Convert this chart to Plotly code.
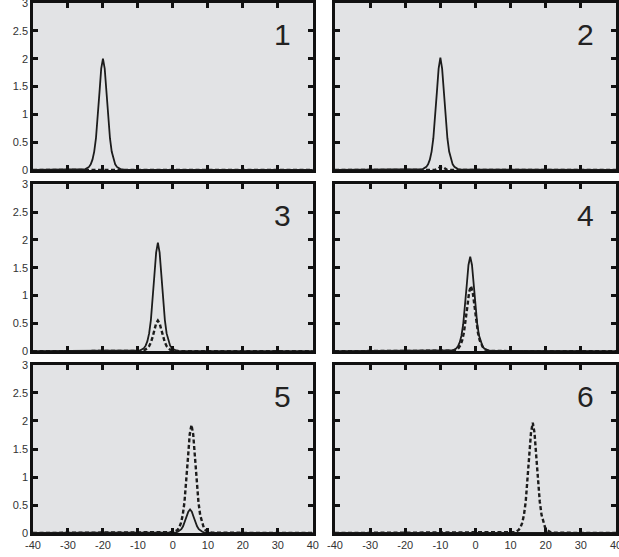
import plotly.graph_objects as go

# ---------------- data ----------------
X_RANGE = [-40, 40]
Y_RANGE = [0, 3]
x_tick_vals = [-40, -30, -20, -10, 0, 10, 20, 30, 40]
x_tick_text = ["-40", "-30", "-20", "-10", "0", "10", "20", "30", "40"]
y_tick_vals = [0, 0.5, 1, 1.5, 2, 2.5, 3]
y_tick_text = ["0", "0.5", "1", "1.5", "2", "2.5", "3"]
panel_labels = ["1", "2", "3", "4", "5", "6"]

# panel 1
p1_solid_x = [-40, -26, -25, -24, -23.5, -23, -22.5, -22, -21.5, -21, -20.5, -20, -19.5, -19, -18.5, -18, -17.5, -17, -16.5, -16, -15, -14, 40]
p1_solid_y = [0, 0.005, 0.016, 0.055, 0.10, 0.185, 0.33, 0.57, 0.93, 1.39, 1.82, 2.0, 1.82, 1.39, 0.93, 0.57, 0.33, 0.185, 0.10, 0.055, 0.016, 0.005, 0]
p1_dash_x = [-40, 40]
p1_dash_y = [0, 0]

# panel 2
p2_solid_x = [-40, -16, -15, -14, -13.5, -13, -12.5, -12, -11.5, -11, -10.5, -10, -9.5, -9, -8.5, -8, -7.5, -7, -6.5, -6, -5, -4, 40]
p2_solid_y = [0, 0.005, 0.016, 0.055, 0.10, 0.185, 0.33, 0.57, 0.93, 1.39, 1.82, 2.02, 1.82, 1.39, 0.93, 0.57, 0.33, 0.185, 0.10, 0.055, 0.016, 0.005, 0]
p2_dash_x = [-40, -11.5, -10.5, -10, -9.5, -9, -8, 40]
p2_dash_y = [0, 0, 0.03, 0.055, 0.06, 0.04, 0, 0]

# panel 3
p3_solid_x = [-40, -10.3, -9.3, -8.3, -7.8, -7.3, -6.8, -6.3, -5.8, -5.3, -4.8, -4.3, -3.8, -3.3, -2.8, -2.3, -1.8, -1.3, -0.8, -0.3, 0.7, 1.7, 40]
p3_solid_y = [0, 0.0045, 0.016, 0.054, 0.10, 0.18, 0.32, 0.56, 0.91, 1.36, 1.77, 1.95, 1.77, 1.36, 0.91, 0.56, 0.32, 0.18, 0.10, 0.054, 0.016, 0.0045, 0]
p3_dash_x = [-40, -10.3, -9.3, -8.3, -7.8, -7.3, -6.8, -6.3, -5.8, -5.3, -4.8, -4.3, -3.8, -3.3, -2.8, -2.3, -1.8, -1.3, -0.8, -0.3, 0.7, 1.7, 40]
p3_dash_y = [0, 0.001, 0.0045, 0.015, 0.028, 0.051, 0.091, 0.157, 0.256, 0.383, 0.50, 0.55, 0.50, 0.383, 0.256, 0.157, 0.091, 0.051, 0.028, 0.015, 0.0045, 0.001, 0]

# panel 4
p4_solid_x = [-40, -7.5, -6.5, -5.5, -5, -4.5, -4, -3.5, -3, -2.5, -2, -1.5, -1, -0.5, 0, 0.5, 1, 1.5, 2, 2.5, 3.5, 4.5, 40]
p4_solid_y = [0, 0.004, 0.014, 0.047, 0.087, 0.157, 0.28, 0.485, 0.79, 1.18, 1.55, 1.7, 1.55, 1.18, 0.79, 0.485, 0.28, 0.157, 0.087, 0.047, 0.014, 0.004, 0]
p4_dash_x = [-40, -7.3, -6.3, -5.3, -4.8, -4.3, -3.8, -3.3, -2.8, -2.3, -1.8, -1.3, -0.8, -0.3, 0.2, 0.7, 1.2, 1.7, 2.2, 2.7, 3.7, 4.7, 40]
p4_dash_y = [0, 0.0027, 0.0095, 0.032, 0.06, 0.108, 0.193, 0.333, 0.545, 0.81, 1.065, 1.17, 1.065, 0.81, 0.545, 0.333, 0.193, 0.108, 0.06, 0.032, 0.0095, 0.0027, 0]

# panel 5
p5_solid_x = [-40, -1.1, -0.1, 0.9, 1.4, 1.9, 2.4, 2.9, 3.4, 3.9, 4.4, 4.9, 5.4, 5.9, 6.4, 6.9, 7.4, 7.9, 8.4, 8.9, 9.9, 10.9, 40]
p5_solid_y = [0, 0.001, 0.0034, 0.0116, 0.0215, 0.039, 0.069, 0.12, 0.196, 0.29, 0.38, 0.42, 0.38, 0.29, 0.196, 0.12, 0.069, 0.039, 0.0215, 0.0116, 0.0034, 0.001, 0]
p5_dash_x = [-40, -0.7, 0.3, 1.3, 1.8, 2.3, 2.8, 3.3, 3.8, 4.3, 4.8, 5.3, 5.8, 6.3, 6.8, 7.3, 7.8, 8.3, 8.8, 9.3, 10.3, 11.3, 40]
p5_dash_y = [0, 0.0044, 0.0156, 0.053, 0.099, 0.179, 0.318, 0.55, 0.90, 1.34, 1.76, 1.93, 1.76, 1.34, 0.90, 0.55, 0.318, 0.179, 0.099, 0.053, 0.0156, 0.0044, 0]

# panel 6
p6_solid_x = [-40, 40]
p6_solid_y = [0, 0]
p6_dash_x = [-40, 10.3, 11.3, 12.3, 12.8, 13.3, 13.8, 14.3, 14.8, 15.3, 15.8, 16.3, 16.8, 17.3, 17.8, 18.3, 18.8, 19.3, 19.8, 20.3, 21.3, 22.3, 40]
p6_dash_y = [0, 0.0045, 0.016, 0.055, 0.10, 0.182, 0.325, 0.56, 0.92, 1.37, 1.79, 1.97, 1.79, 1.37, 0.92, 0.56, 0.325, 0.182, 0.10, 0.055, 0.016, 0.0045, 0]

solid_series = [(p1_solid_x, p1_solid_y), (p2_solid_x, p2_solid_y), (p3_solid_x, p3_solid_y),
                (p4_solid_x, p4_solid_y), (p5_solid_x, p5_solid_y), (p6_solid_x, p6_solid_y)]
dash_series = [(p1_dash_x, p1_dash_y), (p2_dash_x, p2_dash_y), (p3_dash_x, p3_dash_y),
               (p4_dash_x, p4_dash_y), (p5_dash_x, p5_dash_y), (p6_dash_x, p6_dash_y)]

# ---------------- layout ----------------
x_domains = [[0.0, 0.480], [0.518, 1.0]]
y_domains = [[0.685, 1.0], [0.343, 0.658], [0.0, 0.317]]
LINE_COL = "#1c1c1c"
BG = "#e2e3e5"
FONT = "Liberation Sans, Arial, sans-serif"

fig = go.Figure()
layout = dict(
    width=619, height=557,
    margin=dict(l=33, r=3, t=3, b=24, autoexpand=False),
    paper_bgcolor="white",
    plot_bgcolor=BG,
    showlegend=False,
    font=dict(family=FONT, size=11, color="#333333"),
)
annotations = []
for i in range(6):
    row, col = divmod(i, 2)
    n = i + 1
    xa = "xaxis" if n == 1 else f"xaxis{n}"
    ya = "yaxis" if n == 1 else f"yaxis{n}"
    xr = "x" if n == 1 else f"x{n}"
    yr = "y" if n == 1 else f"y{n}"
    layout[xa] = dict(
        domain=x_domains[col], anchor=yr, range=X_RANGE,
        tickmode="array", tickvals=x_tick_vals, ticktext=x_tick_text,
        showticklabels=(row == 2), automargin=False, ticklabeloverflow="allow",
        ticks="inside", ticklen=5, tickwidth=2.5, tickcolor="#111111",
        showline=True, linewidth=2.5, linecolor="#111111", mirror="allticks",
        showgrid=False, zeroline=False, fixedrange=True,
        tickfont=dict(family=FONT, size=11, color="#333333"),
    )
    layout[ya] = dict(
        domain=y_domains[row], anchor=xr, range=Y_RANGE,
        tickmode="array", tickvals=y_tick_vals, ticktext=y_tick_text,
        showticklabels=(col == 0), automargin=False, ticklabeloverflow="allow",
        ticks="inside", ticklen=5, tickwidth=2.5, tickcolor="#111111",
        showline=True, linewidth=2.5, linecolor="#111111", mirror="allticks",
        showgrid=False, zeroline=False, fixedrange=True,
        tickfont=dict(family=FONT, size=11, color="#333333"),
    )
    sx, sy = solid_series[i]
    dx, dy = dash_series[i]
    fig.add_trace(go.Scatter(x=dx, y=dy, mode="lines", xaxis=xr, yaxis=yr,
                             line=dict(color=LINE_COL, width=2.4, dash="4px,2.5px")))
    fig.add_trace(go.Scatter(x=sx, y=sy, mode="lines", xaxis=xr, yaxis=yr,
                             line=dict(color=LINE_COL, width=1.8)))
    annotations.append(dict(
        text=panel_labels[i], xref=f"{xr} domain", yref=f"{yr} domain",
        x=0.893, y=0.81, xanchor="center", yanchor="middle", showarrow=False,
        font=dict(family=FONT, size=30, color="#222222"),
    ))
layout["annotations"] = annotations
fig.update_layout(**layout)
fig.write_html(
    "out.html",
    config={"displayModeBar": False},
    post_script="document.body.style.margin='0';document.body.style.padding='0';",
)
